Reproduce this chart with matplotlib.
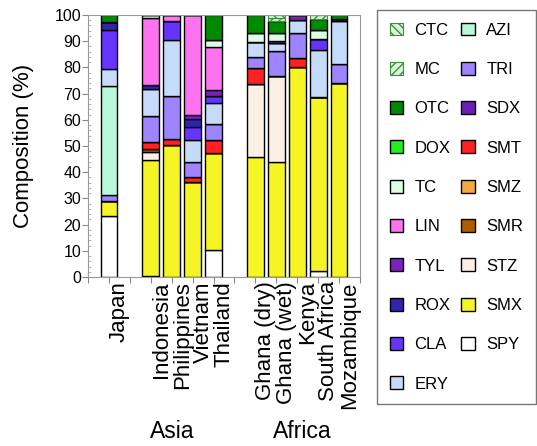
import numpy as np
import matplotlib
matplotlib.use('Agg')
import matplotlib.pyplot as plt

plt.rcParams['font.family'] = ['Liberation Sans', 'DejaVu Sans']

# sampling sites (left to right), slot index on the x axis
sites = ['Japan', 'Indonesia', 'Philippines', 'Vietnam', 'Thailand',
         'Ghana (dry)', 'Ghana (wet)', 'Kenya', 'South Africa', 'Mozambique']
slots = [1, 3, 4, 5, 6, 8, 9, 10, 11, 12]

# composition (%) of each antibiotic, order = stacking from bottom
SPY = [23.2, 0.3, 0.0, 0.0, 10.4, 0.0, 0.0, 0.0, 2.3, 0.0]
SMX = [5.8, 44.5, 50.5, 36.1, 37.1, 45.8, 43.9, 80.2, 66.4, 74.2]
STZ = [0.0, 2.9, 0.0, 0.0, 0.0, 28.0, 32.7, 0.0, 0.0, 0.0]
SMR = [0.0, 1.0, 0.0, 0.0, 0.0, 0.0, 0.0, 0.0, 0.0, 0.0]
SMZ = [0.0, 0.0, 0.0, 0.0, 0.0, 0.0, 0.0, 0.0, 0.0, 0.0]
SMT = [0.0, 3.0, 2.3, 2.1, 4.9, 6.0, 0.0, 3.5, 0.0, 0.0]
SDX = [0.0, 0.0, 0.0, 0.0, 0.0, 0.0, 0.0, 0.0, 0.0, 0.0]
TRI = [2.2, 9.6, 16.3, 5.7, 6.1, 4.2, 9.5, 9.6, 0.0, 7.2]
AZI = [41.6, 0.0, 0.0, 0.0, 0.0, 0.0, 0.0, 0.0, 0.0, 0.0]
ERY = [6.5, 10.3, 21.2, 8.3, 7.9, 5.7, 3.2, 4.7, 17.8, 16.3]
CLA = [15.1, 0.0, 7.4, 5.1, 2.6, 0.0, 0.0, 0.0, 4.5, 0.0]
ROX = [2.8, 1.8, 0.0, 3.1, 0.0, 0.0, 0.0, 0.0, 0.0, 0.9]
TYL = [0.0, 0.0, 0.0, 1.4, 2.5, 0.0, 0.6, 2.0, 0.0, 0.0]
LIN = [0.0, 25.5, 2.3, 38.2, 16.3, 0.0, 0.0, 0.0, 0.0, 0.0]
TC = [0.0, 1.1, 0.0, 0.0, 2.8, 3.6, 3.4, 0.0, 3.1, 0.0]
DOX = [0.0, 0.0, 0.0, 0.0, 0.0, 0.0, 0.0, 0.0, 0.0, 0.0]
OTC = [2.8, 0.0, 0.0, 0.0, 9.4, 6.7, 4.4, 0.0, 4.5, 1.4]
MC = [0.0, 0.0, 0.0, 0.0, 0.0, 0.0, 1.3, 0.0, 1.4, 0.0]
CTC = [0.0, 0.0, 0.0, 0.0, 0.0, 0.0, 1.0, 0.0, 0.0, 0.0]

stack = [('SPY', SPY, 'white'), ('SMX', SMX, '#f5f526'), ('STZ', STZ, '#fbf0e4'),
         ('SMR', SMR, '#b05c00'), ('SMZ', SMZ, '#f5a744'), ('SMT', SMT, '#ff2222'),
         ('SDX', SDX, '#6a1fb5'), ('TRI', TRI, '#9f84ff'), ('AZI', AZI, '#b8f7da'),
         ('ERY', ERY, '#c6dbfa'), ('CLA', CLA, '#6633ff'), ('ROX', ROX, '#3322aa'),
         ('TYL', TYL, '#7a22bb'), ('LIN', LIN, '#ff73f0'), ('TC', TC, '#dcfce4'),
         ('DOX', DOX, '#22ee22'), ('OTC', OTC, '#008a00'), ('MC', MC, '#d8f5dc'),
         ('CTC', CTC, '#d8f5dc')]
hatches = {'MC': '////', 'CTC': '\\\\\\\\'}

fig = plt.figure(figsize=(5.37, 4.46), dpi=100)
ax = fig.add_axes([88/537, 1-277/446, 272/537, 262/446])

handles = {}
bottom = np.zeros(len(sites))
for name, vals, col in stack:
    vals = np.array(vals)
    if name in hatches:
        b = ax.bar(slots, vals, 0.8, bottom=bottom, facecolor=col,
                   edgecolor='#3d8f3d', hatch=hatches[name], linewidth=0.8, label=name)
    else:
        b = ax.bar(slots, vals, 0.8, bottom=bottom, color=col,
                   edgecolor='black', linewidth=1.0, label=name)
    handles[name] = b
    bottom += vals

ax.set_xlim(0, 13)
ax.set_ylim(0, 100)
ax.set_xticks(np.arange(0, 14))
ax.set_xticklabels([])
ax.set_xticks(np.array(slots) + 0.5, minor=True)
ax.set_xticklabels(sites, minor=True, rotation=90, fontsize=16)
ax.tick_params(axis='x', which='minor', length=0, pad=3)
ax.tick_params(axis='x', which='major', length=4, color='#888888')
ax.set_yticks(np.arange(0, 101, 10))
ax.set_yticks(np.arange(0, 101, 2), minor=True)
ax.tick_params(axis='y', labelsize=11.5, length=4, color='#888888', pad=1)
ax.tick_params(axis='y', which='minor', direction='in', length=2, color='#aaaaaa')
ax.set_ylabel('Composition (%)', fontsize=16, labelpad=15)
for s in ax.spines.values():
    s.set_color('#999999')

fig.text(172/537, 1-432/446, 'Asia', ha='center', va='center', fontsize=16.5)
fig.text(302/537, 1-432/446, 'Africa', ha='center', va='center', fontsize=16.5)

order = ['CTC', 'MC', 'OTC', 'DOX', 'TC', 'LIN', 'TYL', 'ROX', 'CLA', 'ERY',
         'AZI', 'TRI', 'SDX', 'SMT', 'SMZ', 'SMR', 'STZ', 'SMX', 'SPY']
leg = fig.legend([handles[n] for n in order], order, ncol=2,
                 loc='upper left', bbox_to_anchor=(377/537, 1-10/446),
                 fontsize=12, frameon=True, fancybox=False, edgecolor='#555555',
                 labelspacing=1.45, handlelength=0.8, handleheight=0.8,
                 handletextpad=0.7, columnspacing=0.65, borderpad=0.75,
                 borderaxespad=0)
leg.get_frame().set_linewidth(1.0)

fig.savefig('out.png', dpi=100)
